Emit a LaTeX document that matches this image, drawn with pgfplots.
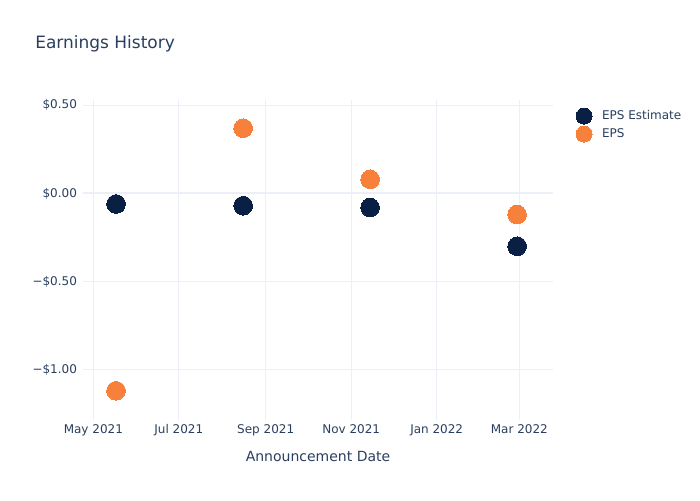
\documentclass[border=0pt]{standalone}
\usepackage{pgfplots}
\pgfplotsset{compat=1.18}
\usepackage{fontspec}
\setmainfont{DejaVu Sans}
\definecolor{txt}{HTML}{2A3F5F}
\definecolor{grid}{HTML}{EBF0F8}
\definecolor{navy}{HTML}{0A1F44}
\definecolor{orng}{HTML}{F7813A}
\begin{document}
\begin{tikzpicture}
\path[use as bounding box,fill=white] (0,0) rectangle (525pt,375pt);
\node[anchor=west,text=txt,font=\fontsize{12.75pt}{14pt}\selectfont,inner sep=0pt] at (26.25pt,342pt) {Earnings History};
\begin{axis}[
  at={(62.25pt,60pt)}, anchor=south west,
  scale only axis, width=352.5pt, height=240pt,
  xmin=-7.4, xmax=328, ymin=-1.286, ymax=0.53,
  axis line style={draw=none},
  major tick length=0pt,
  xtick={0,61,123,184,245,304},
  xticklabels={May 2021,Jul 2021,Sep 2021,Nov 2021,Jan 2022,Mar 2022},
  ytick={-1,-0.5,0,0.5},
  yticklabels={−\$1.00,−\$0.50,\$0.00,\$0.50},
  ticklabel style={text=txt,font=\fontsize{9pt}{10pt}\selectfont},
  xticklabel style={yshift=2pt,text height=1.6ex,text depth=0.3ex},
  yticklabel style={xshift=-1pt},
  grid=major, major grid style={draw=grid,line width=0.75pt},
  xlabel={Announcement Date},
  xlabel style={text=txt,font=\fontsize{10.5pt}{12pt}\selectfont,yshift=-4.5pt},
  legend style={at={(1.04,0.984)},anchor=north west,draw=none,fill=none,
    text=txt,font=\fontsize{9pt}{10pt}\selectfont,row sep=1.5pt,column sep=6pt,
    nodes={inner sep=1.5pt}},
  legend image post style={mark size=6pt},
  legend cell align=left,
  clip=false,
]
\draw[grid,line width=1.5pt] (axis cs:-7.4,0) -- (axis cs:328,0);
\addplot[only marks,mark=*,mark size=7pt,color=navy,mark options={draw=navy,fill=navy,line width=0pt}]
 coordinates {(16.2,-0.06) (106.9,-0.07) (197.5,-0.08) (302.4,-0.30)};
\addlegendentry{EPS Estimate}
\addplot[only marks,mark=*,mark size=7pt,color=orng,mark options={draw=orng,fill=orng,line width=0pt}]
 coordinates {(16.2,-1.12) (106.9,0.37) (197.5,0.08) (302.4,-0.12)};
\addlegendentry{EPS}
\end{axis}
\end{tikzpicture}
\end{document}
